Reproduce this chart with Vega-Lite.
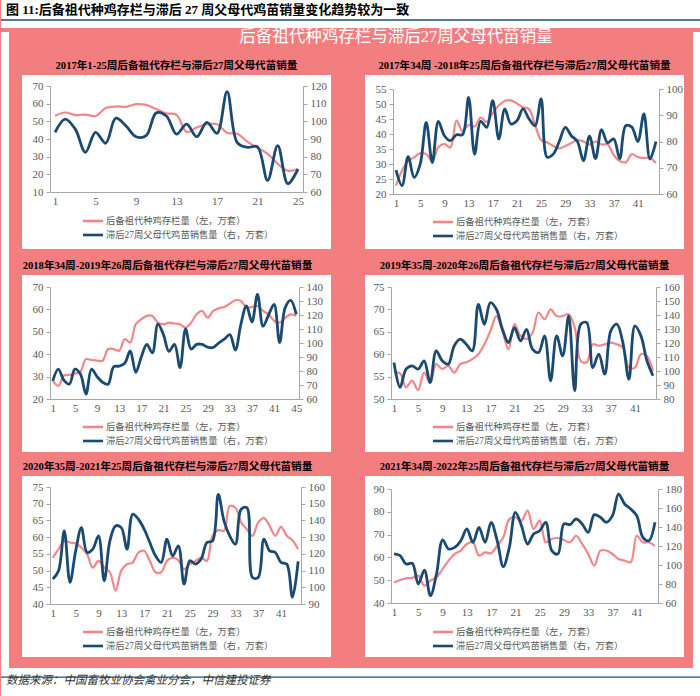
{
  "$schema": "https://vega.github.io/schema/vega-lite/v6.json",
  "background": "#F37E80",
  "padding": 0,
  "bounds": "full",
  "spacing": 0,
  "resolve": {"scale": {"color": "independent"}, "legend": {"color": "independent"}},
  "config": {
    "view": {"stroke": null},
    "axis": {"grid": false, "title": null, "labelFont": "Liberation Serif", "labelFontSize": 11, "labelColor": "#595959", "domainColor": "#A6A6A6", "tickColor": "#A6A6A6", "tickSize": 4, "labelPadding": 3, "labelFlush": false, "labelOverlap": false},
    "legend": {"orient": "none", "direction": "vertical", "symbolType": "M-1.54,0H1.54", "symbolSize": 169, "symbolStrokeWidth": 2.6, "labelFont": "Liberation Serif, Noto Sans CJK SC", "labelFontSize": 9.3, "labelColor": "#595959", "labelOffset": 5, "rowPadding": 0, "padding": 0, "labelLimit": 400},
    "title": {"font": "Liberation Serif, Noto Sans CJK SC", "fontSize": 10.6, "fontWeight": "bold", "color": "#000000", "offset": 3, "anchor": "middle", "frame": "group"},
    "line": {"interpolate": "catmull-rom"}
  },
  "datasets": {
    "p1": [
      {"w":1,"a":53.1,"b":93.8},{"w":2,"a":55,"b":101.3},{"w":3,"a":53.5,"b":95.6},{"w":4,"a":53.8,"b":82.5},{"w":5,"a":53,"b":93.8},
      {"w":6,"a":57.5,"b":87.6},{"w":7,"a":58.4,"b":101.8},{"w":8,"a":58.2,"b":97.5},{"w":9,"a":59.7,"b":91.3},{"w":10,"a":59.3,"b":91.9},
      {"w":11,"a":57,"b":104.8},{"w":12,"a":54.5,"b":103},{"w":13,"a":53.7,"b":92.8},{"w":14,"a":44,"b":98.4},{"w":15,"a":46.5,"b":91.3},
      {"w":16,"a":48.4,"b":99.4},{"w":17,"a":48.4,"b":93.2},{"w":18,"a":43.5,"b":116.8},{"w":19,"a":43,"b":88},{"w":20,"a":38.5,"b":85.3},
      {"w":21,"a":35,"b":85.6},{"w":22,"a":31.6,"b":66.6},{"w":23,"a":26,"b":86.3},{"w":24,"a":22,"b":64.7},{"w":25,"a":23,"b":73}
    ],
    "p2": [
      {"w":1,"a":22.8,"b":69.1},{"w":2,"a":27.8,"b":63.2},{"w":3,"a":31,"b":74.2},{"w":4,"a":32.2,"b":66.3},{"w":5,"a":33.6,"b":71.4},
      {"w":6,"a":33.3,"b":87.3},{"w":7,"a":31,"b":72},{"w":8,"a":35.6,"b":87.7},{"w":9,"a":36.7,"b":82.2},{"w":10,"a":35.5,"b":80.3},
      {"w":11,"a":44.5,"b":82.6},{"w":12,"a":41,"b":82.6},{"w":13,"a":43,"b":96.8},{"w":14,"a":42.5,"b":75.2},{"w":15,"a":45.5,"b":87.7},
      {"w":16,"a":44,"b":85.4},{"w":17,"a":47,"b":95.6},{"w":18,"a":49.5,"b":81},{"w":19,"a":51,"b":92.4},{"w":20,"a":51.2,"b":86.7},
      {"w":21,"a":50.2,"b":87.9},{"w":22,"a":48.9,"b":92.4},{"w":23,"a":48.3,"b":88.6},{"w":24,"a":43,"b":86},{"w":25,"a":38,"b":96.2},
      {"w":26,"a":37.2,"b":74},{"w":27,"a":36,"b":75.2},{"w":28,"a":35.2,"b":80},{"w":29,"a":36,"b":85.4},{"w":30,"a":37,"b":82.2},
      {"w":31,"a":38,"b":80},{"w":32,"a":37.5,"b":72.7},{"w":33,"a":36.5,"b":82},{"w":34,"a":37.5,"b":73.5},{"w":35,"a":36.5,"b":84.5},
      {"w":36,"a":36.5,"b":79.5},{"w":37,"a":33,"b":81},{"w":38,"a":31,"b":73.5},{"w":39,"a":30.5,"b":86},{"w":40,"a":33.3,"b":85.5},
      {"w":41,"a":32.3,"b":80},{"w":42,"a":32,"b":90.5},{"w":43,"a":32,"b":73.3},{"w":44,"a":30.3,"b":80}
    ],
    "p3": [
      {"w":1,"a":28.2,"b":73},{"w":2,"a":25.9,"b":81.3},{"w":3,"a":30.4,"b":73.5},{"w":4,"a":30.8,"b":70.6},{"w":5,"a":31.4,"b":81.3},
      {"w":6,"a":32.3,"b":77.8},{"w":7,"a":37.8,"b":63.5},{"w":8,"a":37.4,"b":81.3},{"w":9,"a":37.1,"b":76},{"w":10,"a":37.1,"b":72},
      {"w":11,"a":42.3,"b":70.6},{"w":12,"a":42.3,"b":83},{"w":13,"a":41.5,"b":83.5},{"w":14,"a":46.7,"b":85.5},{"w":15,"a":45.2,"b":94.4},
      {"w":16,"a":53.4,"b":79},{"w":17,"a":55.6,"b":90},{"w":18,"a":57.1,"b":99},{"w":19,"a":57.1,"b":93},{"w":20,"a":54.1,"b":113.4},
      {"w":21,"a":53.4,"b":106},{"w":22,"a":54.1,"b":94},{"w":23,"a":53.7,"b":99},{"w":24,"a":53.4,"b":82.5},{"w":25,"a":51.9,"b":110},
      {"w":26,"a":54.1,"b":95.6},{"w":27,"a":57.8,"b":99},{"w":28,"a":59.3,"b":99},{"w":29,"a":56.3,"b":97},{"w":30,"a":59.3,"b":96.8},
      {"w":31,"a":60.5,"b":100},{"w":32,"a":61.1,"b":102.7},{"w":33,"a":62.6,"b":106},{"w":34,"a":64.1,"b":95},{"w":35,"a":63.8,"b":113.4},
      {"w":36,"a":60.8,"b":126.5},{"w":37,"a":61.1,"b":115},{"w":38,"a":61.5,"b":134.8},{"w":39,"a":59.3,"b":112},{"w":40,"a":57.8,"b":120},
      {"w":41,"a":54.9,"b":127.6},{"w":42,"a":54.1,"b":100.3},{"w":43,"a":56.3,"b":125.3},{"w":44,"a":57.8,"b":130.5},{"w":45,"a":57.1,"b":120.5}
    ],
    "p4": [
      {"w":1,"a":55.9,"b":106},{"w":2,"a":55.7,"b":88.3},{"w":3,"a":52.6,"b":101.3},{"w":4,"a":54.1,"b":103.7},{"w":5,"a":52,"b":101.3},
      {"w":6,"a":55.9,"b":107.3},{"w":7,"a":53.7,"b":91.8},{"w":8,"a":57.8,"b":114.4},{"w":9,"a":56.7,"b":107.3},{"w":10,"a":57.4,"b":104.9},
      {"w":11,"a":55.9,"b":118},{"w":12,"a":57.8,"b":122.7},{"w":13,"a":58.2,"b":119.1},{"w":14,"a":58.9,"b":114.4},{"w":15,"a":60,"b":147.6},
      {"w":16,"a":62.2,"b":133.4},{"w":17,"a":65.2,"b":148.8},{"w":18,"a":68.5,"b":144.1},{"w":19,"a":65.2,"b":129.8},{"w":20,"a":61.1,"b":120.3},
      {"w":21,"a":66.7,"b":131},{"w":22,"a":64.1,"b":121.5},{"w":23,"a":63.4,"b":129.8},{"w":24,"a":64.8,"b":115.6},{"w":25,"a":69.3,"b":113.2},
      {"w":26,"a":67.8,"b":125.1},{"w":27,"a":70,"b":93},{"w":28,"a":68.5,"b":125.1},{"w":29,"a":68.5,"b":110.8},{"w":30,"a":68.9,"b":139.3},
      {"w":31,"a":66,"b":85.9},{"w":32,"a":58.5,"b":133.4},{"w":33,"a":58.2,"b":134.6},{"w":34,"a":62.2,"b":102.5},{"w":35,"a":61.9,"b":112},
      {"w":36,"a":62.2,"b":97.8},{"w":37,"a":62.6,"b":128.6},{"w":38,"a":62.2,"b":133.4},{"w":39,"a":61.5,"b":120.3},{"w":40,"a":57,"b":94.2},
      {"w":41,"a":57,"b":132.2},{"w":42,"a":60,"b":125.1},{"w":43,"a":59.6,"b":107.3},{"w":44,"a":56.3,"b":96.6}
    ],
    "p5": [
      {"w":1,"a":53.9,"b":104.9},{"w":2,"a":56.4,"b":109.9},{"w":3,"a":58.9,"b":133.8},{"w":4,"a":58.4,"b":102.9},{"w":5,"a":58.1,"b":121.8},
      {"w":6,"a":56.9,"b":135.7},{"w":7,"a":54.9,"b":120.8},{"w":8,"a":50.9,"b":122.8},{"w":9,"a":52.9,"b":130.8},{"w":10,"a":50.9,"b":103.9},
      {"w":11,"a":49.5,"b":127.8},{"w":12,"a":44,"b":136.7},{"w":13,"a":50,"b":135.7},{"w":14,"a":51.9,"b":122.8},{"w":15,"a":52.4,"b":143.7},
      {"w":16,"a":55.4,"b":140.7},{"w":17,"a":55.9,"b":134.8},{"w":18,"a":52.9,"b":126.8},{"w":19,"a":49.5,"b":118.8},{"w":20,"a":49.5,"b":114.9},
      {"w":21,"a":52.9,"b":128.8},{"w":22,"a":53.9,"b":118.8},{"w":23,"a":53.1,"b":124.8},{"w":24,"a":50.4,"b":101.9},{"w":25,"a":51.9,"b":115.9},
      {"w":26,"a":52.9,"b":113.9},{"w":27,"a":53.9,"b":116.9},{"w":28,"a":52.9,"b":126.8},{"w":29,"a":60.4,"b":127.8},{"w":30,"a":62.1,"b":155.6},
      {"w":31,"a":61.9,"b":139.7},{"w":32,"a":69.3,"b":130.8},{"w":33,"a":68.8,"b":125.8},{"w":34,"a":64.4,"b":146.7},{"w":35,"a":62.4,"b":147.7},
      {"w":36,"a":60.4,"b":105.9},{"w":37,"a":64.4,"b":105.9},{"w":38,"a":65.7,"b":128.8},{"w":39,"a":63.4,"b":121.8},{"w":40,"a":60.4,"b":120.8},
      {"w":41,"a":63.1,"b":114.9},{"w":42,"a":60.4,"b":113.9},{"w":43,"a":59.1,"b":94},{"w":44,"a":56.4,"b":115.5}
    ],
    "p6": [
      {"w":1,"a":49,"b":111.6},{"w":2,"a":50.1,"b":109.8},{"w":3,"a":50.8,"b":101},{"w":4,"a":51,"b":101.8},{"w":5,"a":52,"b":80},
      {"w":6,"a":47.6,"b":94.7},{"w":7,"a":49.8,"b":67.7},{"w":8,"a":51.3,"b":90.5},{"w":9,"a":54.9,"b":126.3},{"w":10,"a":58.6,"b":116.8},
      {"w":11,"a":61.5,"b":118.6},{"w":12,"a":63,"b":125.6},{"w":13,"a":65.9,"b":137.9},{"w":14,"a":66.6,"b":123.9},{"w":15,"a":60.8,"b":139.6},
      {"w":16,"a":62.2,"b":123.9},{"w":17,"a":61.8,"b":144.9},{"w":18,"a":65.1,"b":125.6},{"w":19,"a":68.8,"b":98.2},{"w":20,"a":76.8,"b":118.6},
      {"w":21,"a":77.6,"b":155.4},{"w":22,"a":76.1,"b":141.4},{"w":23,"a":80.5,"b":122.1},{"w":24,"a":72.5,"b":132.6},{"w":25,"a":76.1,"b":136.1},
      {"w":26,"a":66.6,"b":144.9},{"w":27,"a":68.1,"b":115.1},{"w":28,"a":68.5,"b":111.6},{"w":29,"a":67.6,"b":143.2},{"w":30,"a":66.6,"b":142.5},
      {"w":31,"a":69.5,"b":148.4},{"w":32,"a":65.9,"b":143.2},{"w":33,"a":61.5,"b":134.4},{"w":34,"a":56.4,"b":153},{"w":35,"a":63,"b":150.2},
      {"w":36,"a":63,"b":144.9},{"w":37,"a":61.5,"b":151.9},{"w":38,"a":59.3,"b":174.7},{"w":39,"a":58.6,"b":164.2},{"w":40,"a":57.8,"b":158.9},
      {"w":41,"a":69.5,"b":151.9},{"w":42,"a":66.6,"b":129.1},{"w":43,"a":66.6,"b":125.6},{"w":44,"a":65.1,"b":144.9}
    ]
  },
  "vconcat": [
    {
      "width": 700, "height": 28,
      "view": {"fill": "white", "stroke": null},
      "title": {"text": "图 11:后备祖代种鸡存栏与滞后 27 周父母代鸡苗销量变化趋势较为一致", "anchor": "start", "frame": "group", "orient": "bottom", "offset": -24, "dx": 5, "fontSize": 13, "fontWeight": "bold", "color": "#000000", "font": "Liberation Serif, Noto Sans CJK SC"},
      "data": {"values": [{"v": 0}]},
      "mark": {"type": "rule", "color": "#1F4E79", "strokeWidth": 1.5},
      "encoding": {"y": {"field": "v", "type": "quantitative", "scale": {"domain": [-0.4, 1], "nice": false}, "axis": null}}
    },
    {
      "bounds": "full", "spacing": 0,
      "resolve": {"scale": {"color": "independent"}, "legend": {"color": "independent"}},
      "hconcat": [
        {"width": 8, "height": 636, "view": {"fill": "white", "stroke": null}, "data": {"values": []}, "mark": "rule", "encoding": {}},
        {
          "bounds": "flush", "spacing": 0, "columns": 5,
          "resolve": {"scale": {"color": "independent"}, "legend": {"color": "independent"}},
          "concat": [
            {"width": 13, "height": 43, "data": {"values": []}, "mark": "rule", "encoding": {}},
            {"width": 309, "height": 43, "data": {"values": []}, "mark": "rule", "encoding": {}},
            {"width": 34, "height": 43, "data": {"values": []}, "mark": "rule", "encoding": {},
             "title": {"text": "后备祖代种鸡存栏与滞后27周父母代苗销量", "color": "white", "fontSize": 16.5, "fontWeight": "normal", "anchor": "middle", "frame": "group", "orient": "top", "offset": -21, "baseline": "middle", "dx": 48}},
            {"width": 319, "height": 43, "data": {"values": []}, "mark": "rule", "encoding": {}},
            {"width": 9, "height": 43, "data": {"values": []}, "mark": "rule", "encoding": {}},

            {"width": 13, "height": 174, "data": {"values": []}, "mark": "rule", "encoding": {}},
            {
              "width": 309, "height": 174,
              "view": {"fill": "white", "stroke": null},
              "title": {"text": "2017年1-25周后备祖代存栏与滞后27周父母代苗销量"},
              "data": {"name": "p1"},
              "encoding": {"x": {"field": "w", "type": "quantitative", "scale": {"domain": [0.5, 25.5], "range": [28, 281], "nice": false, "zero": false}, "axis": {"values": [1,5,9,13,17,21,25], "offset": -57, "ticks": false}}},
              "layer": [
                {"mark": {"type": "line", "strokeWidth": 2.2}, "encoding": {
                  "y": {"field": "a", "type": "quantitative", "scale": {"domain": [10, 70], "range": [117, 11], "nice": false, "zero": false}, "axis": {"orient": "left", "values": [10,20,30,40,50,60,70], "offset": -28}},
                  "color": {"datum": "后备祖代种鸡存栏量（左，万套）", "type": "nominal", "scale": {"domain": ["后备祖代种鸡存栏量（左，万套）", "滞后27周父母代鸡苗销售量（右，万套）"], "range": ["#F2878A", "#1A4A72"]}, "legend": {"title": null, "legendX": 63, "legendY": 138}}}},
                {"mark": {"type": "line", "strokeWidth": 2.8}, "encoding": {
                  "y": {"field": "b", "type": "quantitative", "scale": {"domain": [60, 120], "range": [117, 11], "nice": false, "zero": false}, "axis": {"orient": "right", "values": [60,70,80,90,100,110,120], "offset": -28}},
                  "color": {"datum": "滞后27周父母代鸡苗销售量（右，万套）", "type": "nominal", "scale": {"domain": ["后备祖代种鸡存栏量（左，万套）", "滞后27周父母代鸡苗销售量（右，万套）"], "range": ["#F2878A", "#1A4A72"]}, "legend": {"title": null, "legendX": 63, "legendY": 138}}}}
              ],
              "resolve": {"scale": {"y": "independent"}}
            },
            {"width": 34, "height": 174, "data": {"values": []}, "mark": "rule", "encoding": {}},
            {
              "width": 319, "height": 174,
              "view": {"fill": "white", "stroke": null},
              "title": {"text": "2017年34周 -2018年25周后备祖代存栏与滞后27周父母代苗销量"},
              "data": {"name": "p2"},
              "encoding": {"x": {"field": "w", "type": "quantitative", "scale": {"domain": [0.5, 44.5], "range": [28, 294], "nice": false, "zero": false}, "axis": {"values": [1,5,9,13,17,21,25,29,33,37,41], "offset": -55, "ticks": false}}},
              "layer": [
                {"mark": {"type": "line", "strokeWidth": 2.2}, "encoding": {
                  "y": {"field": "a", "type": "quantitative", "scale": {"domain": [20, 55], "range": [119, 14], "nice": false, "zero": false}, "axis": {"orient": "left", "values": [20,25,30,35,40,45,50,55], "offset": -28}},
                  "color": {"datum": "后备祖代种鸡存栏量（左，万套）", "type": "nominal", "scale": {"domain": ["后备祖代种鸡存栏量（左，万套）", "滞后27周父母代鸡苗销售量（右，万套）"], "range": ["#F2878A", "#1A4A72"]}, "legend": {"title": null, "legendX": 70, "legendY": 139}}}},
                {"mark": {"type": "line", "strokeWidth": 2.8}, "encoding": {
                  "y": {"field": "b", "type": "quantitative", "scale": {"domain": [60, 100], "range": [119, 14], "nice": false, "zero": false}, "axis": {"orient": "right", "values": [60,70,80,90,100], "offset": -25}},
                  "color": {"datum": "滞后27周父母代鸡苗销售量（右，万套）", "type": "nominal", "scale": {"domain": ["后备祖代种鸡存栏量（左，万套）", "滞后27周父母代鸡苗销售量（右，万套）"], "range": ["#F2878A", "#1A4A72"]}, "legend": {"title": null, "legendX": 70, "legendY": 139}}}}
              ],
              "resolve": {"scale": {"y": "independent"}}
            },
            {"width": 9, "height": 174, "data": {"values": []}, "mark": "rule", "encoding": {}},

            {"width": 13, "height": 26, "data": {"values": []}, "mark": "rule", "encoding": {}},
            {"width": 309, "height": 26, "data": {"values": []}, "mark": "rule", "encoding": {}},
            {"width": 34, "height": 26, "data": {"values": []}, "mark": "rule", "encoding": {}},
            {"width": 319, "height": 26, "data": {"values": []}, "mark": "rule", "encoding": {}},
            {"width": 9, "height": 26, "data": {"values": []}, "mark": "rule", "encoding": {}},

            {"width": 13, "height": 177, "data": {"values": []}, "mark": "rule", "encoding": {}},
            {
              "width": 309, "height": 177,
              "view": {"fill": "white", "stroke": null},
              "title": {"text": "2018年34周-2019年26周后备祖代存栏与滞后27周父母代苗销量", "dx": -9},
              "data": {"name": "p3"},
              "encoding": {"x": {"field": "w", "type": "quantitative", "scale": {"domain": [0.5, 45.5], "range": [28, 277], "nice": false, "zero": false}, "axis": {"values": [1,5,9,13,17,21,25,29,33,37,41,45], "offset": -53, "ticks": false}}},
              "layer": [
                {"mark": {"type": "line", "strokeWidth": 2.2}, "encoding": {
                  "y": {"field": "a", "type": "quantitative", "scale": {"domain": [20, 70], "range": [124, 12], "nice": false, "zero": false}, "axis": {"orient": "left", "values": [20,30,40,50,60,70], "offset": -28}},
                  "color": {"datum": "后备祖代种鸡存栏量（左，万套）", "type": "nominal", "scale": {"domain": ["后备祖代种鸡存栏量（左，万套）", "滞后27周父母代鸡苗销售量（右，万套）"], "range": ["#F2878A", "#1A4A72"]}, "legend": {"title": null, "legendX": 63, "legendY": 144}}}},
                {"mark": {"type": "line", "strokeWidth": 2.8}, "encoding": {
                  "y": {"field": "b", "type": "quantitative", "scale": {"domain": [60, 140], "range": [124, 12], "nice": false, "zero": false}, "axis": {"orient": "right", "values": [60,70,80,90,100,110,120,130,140], "offset": -32}},
                  "color": {"datum": "滞后27周父母代鸡苗销售量（右，万套）", "type": "nominal", "scale": {"domain": ["后备祖代种鸡存栏量（左，万套）", "滞后27周父母代鸡苗销售量（右，万套）"], "range": ["#F2878A", "#1A4A72"]}, "legend": {"title": null, "legendX": 63, "legendY": 144}}}}
              ],
              "resolve": {"scale": {"y": "independent"}}
            },
            {"width": 34, "height": 177, "data": {"values": []}, "mark": "rule", "encoding": {}},
            {
              "width": 319, "height": 177,
              "view": {"fill": "white", "stroke": null},
              "title": {"text": "2019年35周-2020年26周后备祖代存栏与滞后27周父母代苗销量"},
              "data": {"name": "p4"},
              "encoding": {"x": {"field": "w", "type": "quantitative", "scale": {"domain": [0.5, 44.5], "range": [26, 291], "nice": false, "zero": false}, "axis": {"values": [1,5,9,13,17,21,25,29,33,37,41], "offset": -53, "ticks": false}}},
              "layer": [
                {"mark": {"type": "line", "strokeWidth": 2.2}, "encoding": {
                  "y": {"field": "a", "type": "quantitative", "scale": {"domain": [50, 75], "range": [124, 12], "nice": false, "zero": false}, "axis": {"orient": "left", "values": [50,55,60,65,70,75], "offset": -26}},
                  "color": {"datum": "后备祖代种鸡存栏量（左，万套）", "type": "nominal", "scale": {"domain": ["后备祖代种鸡存栏量（左，万套）", "滞后27周父母代鸡苗销售量（右，万套）"], "range": ["#F2878A", "#1A4A72"]}, "legend": {"title": null, "legendX": 70, "legendY": 144}}}},
                {"mark": {"type": "line", "strokeWidth": 2.8}, "encoding": {
                  "y": {"field": "b", "type": "quantitative", "scale": {"domain": [80, 160], "range": [124, 12], "nice": false, "zero": false}, "axis": {"orient": "right", "values": [80,90,100,110,120,130,140,150,160], "offset": -28}},
                  "color": {"datum": "滞后27周父母代鸡苗销售量（右，万套）", "type": "nominal", "scale": {"domain": ["后备祖代种鸡存栏量（左，万套）", "滞后27周父母代鸡苗销售量（右，万套）"], "range": ["#F2878A", "#1A4A72"]}, "legend": {"title": null, "legendX": 70, "legendY": 144}}}}
              ],
              "resolve": {"scale": {"y": "independent"}}
            },
            {"width": 9, "height": 177, "data": {"values": []}, "mark": "rule", "encoding": {}},

            {"width": 13, "height": 24, "data": {"values": []}, "mark": "rule", "encoding": {}},
            {"width": 309, "height": 24, "data": {"values": []}, "mark": "rule", "encoding": {}},
            {"width": 34, "height": 24, "data": {"values": []}, "mark": "rule", "encoding": {}},
            {"width": 319, "height": 24, "data": {"values": []}, "mark": "rule", "encoding": {}},
            {"width": 9, "height": 24, "data": {"values": []}, "mark": "rule", "encoding": {}},

            {"width": 13, "height": 181, "data": {"values": []}, "mark": "rule", "encoding": {}},
            {
              "width": 309, "height": 181,
              "view": {"fill": "white", "stroke": null},
              "title": {"text": "2020年35周-2021年25周后备祖代存栏与滞后27周父母代苗销量", "dx": -9},
              "data": {"name": "p5"},
              "encoding": {"x": {"field": "w", "type": "quantitative", "scale": {"domain": [0.5, 44.5], "range": [28, 279], "nice": false, "zero": false}, "axis": {"values": [1,5,9,13,17,21,25,29,33,37,41], "offset": -53, "ticks": false}}},
              "layer": [
                {"mark": {"type": "line", "strokeWidth": 2.2}, "encoding": {
                  "y": {"field": "a", "type": "quantitative", "scale": {"domain": [40, 75], "range": [128, 11], "nice": false, "zero": false}, "axis": {"orient": "left", "values": [40,45,50,55,60,65,70,75], "offset": -28}},
                  "color": {"datum": "后备祖代种鸡存栏量（左，万套）", "type": "nominal", "scale": {"domain": ["后备祖代种鸡存栏量（左，万套）", "滞后27周父母代鸡苗销售量（右，万套）"], "range": ["#F2878A", "#1A4A72"]}, "legend": {"title": null, "legendX": 63, "legendY": 148}}}},
                {"mark": {"type": "line", "strokeWidth": 2.8}, "encoding": {
                  "y": {"field": "b", "type": "quantitative", "scale": {"domain": [90, 160], "range": [128, 11], "nice": false, "zero": false}, "axis": {"orient": "right", "values": [90,100,110,120,130,140,150,160], "offset": -30}},
                  "color": {"datum": "滞后27周父母代鸡苗销售量（右，万套）", "type": "nominal", "scale": {"domain": ["后备祖代种鸡存栏量（左，万套）", "滞后27周父母代鸡苗销售量（右，万套）"], "range": ["#F2878A", "#1A4A72"]}, "legend": {"title": null, "legendX": 63, "legendY": 148}}}}
              ],
              "resolve": {"scale": {"y": "independent"}}
            },
            {"width": 34, "height": 181, "data": {"values": []}, "mark": "rule", "encoding": {}},
            {
              "width": 319, "height": 181,
              "view": {"fill": "white", "stroke": null},
              "title": {"text": "2021年34周-2022年25周后备祖代存栏与滞后27周父母代苗销量"},
              "data": {"name": "p6"},
              "encoding": {"x": {"field": "w", "type": "quantitative", "scale": {"domain": [0.5, 44.5], "range": [26, 293], "nice": false, "zero": false}, "axis": {"values": [1,5,9,13,17,21,25,29,33,37,41], "offset": -54, "ticks": false}}},
              "layer": [
                {"mark": {"type": "line", "strokeWidth": 2.2}, "encoding": {
                  "y": {"field": "a", "type": "quantitative", "scale": {"domain": [40, 90], "range": [127, 13], "nice": false, "zero": false}, "axis": {"orient": "left", "values": [40,50,60,70,80,90], "offset": -26}},
                  "color": {"datum": "后备祖代种鸡存栏量（左，万套）", "type": "nominal", "scale": {"domain": ["后备祖代种鸡存栏量（左，万套）", "滞后27周父母代鸡苗销售量（右，万套）"], "range": ["#F2878A", "#1A4A72"]}, "legend": {"title": null, "legendX": 70, "legendY": 148}}}},
                {"mark": {"type": "line", "strokeWidth": 2.8}, "encoding": {
                  "y": {"field": "b", "type": "quantitative", "scale": {"domain": [60, 180], "range": [127, 13], "nice": false, "zero": false}, "axis": {"orient": "right", "values": [60,80,100,120,140,160,180], "offset": -26}},
                  "color": {"datum": "滞后27周父母代鸡苗销售量（右，万套）", "type": "nominal", "scale": {"domain": ["后备祖代种鸡存栏量（左，万套）", "滞后27周父母代鸡苗销售量（右，万套）"], "range": ["#F2878A", "#1A4A72"]}, "legend": {"title": null, "legendX": 70, "legendY": 148}}}}
              ],
              "resolve": {"scale": {"y": "independent"}}
            },
            {"width": 9, "height": 181, "data": {"values": []}, "mark": "rule", "encoding": {}},

            {"width": 13, "height": 11, "data": {"values": []}, "mark": "rule", "encoding": {}},
            {"width": 309, "height": 11, "data": {"values": []}, "mark": "rule", "encoding": {}},
            {"width": 34, "height": 11, "data": {"values": []}, "mark": "rule", "encoding": {}},
            {"width": 319, "height": 11, "data": {"values": []}, "mark": "rule", "encoding": {}},
            {"width": 9, "height": 11, "data": {"values": []}, "mark": "rule", "encoding": {}}
          ]
        },
        {"width": 8, "height": 636, "view": {"fill": "white", "stroke": null}, "data": {"values": []}, "mark": "rule", "encoding": {}}
      ]
    },
    {
      "width": 700, "height": 32,
      "view": {"fill": "white", "stroke": null},
      "title": {"text": "数据来源：中国畜牧业协会禽业分会，中信建投证券", "anchor": "start", "frame": "group", "orient": "top", "offset": -24, "baseline": "middle", "dx": 5, "fontSize": 11.5, "fontStyle": "italic", "fontWeight": "normal", "color": "#333333", "font": "Liberation Serif, Noto Sans CJK SC"},
      "data": {"values": [{"v": 0}]},
      "mark": {"type": "rule", "color": "#1F4E79", "strokeWidth": 1.2},
      "encoding": {"y": {"field": "v", "type": "quantitative", "scale": {"domain": [-1, 0.4], "nice": false}, "axis": null}}
    }
  ]
}
